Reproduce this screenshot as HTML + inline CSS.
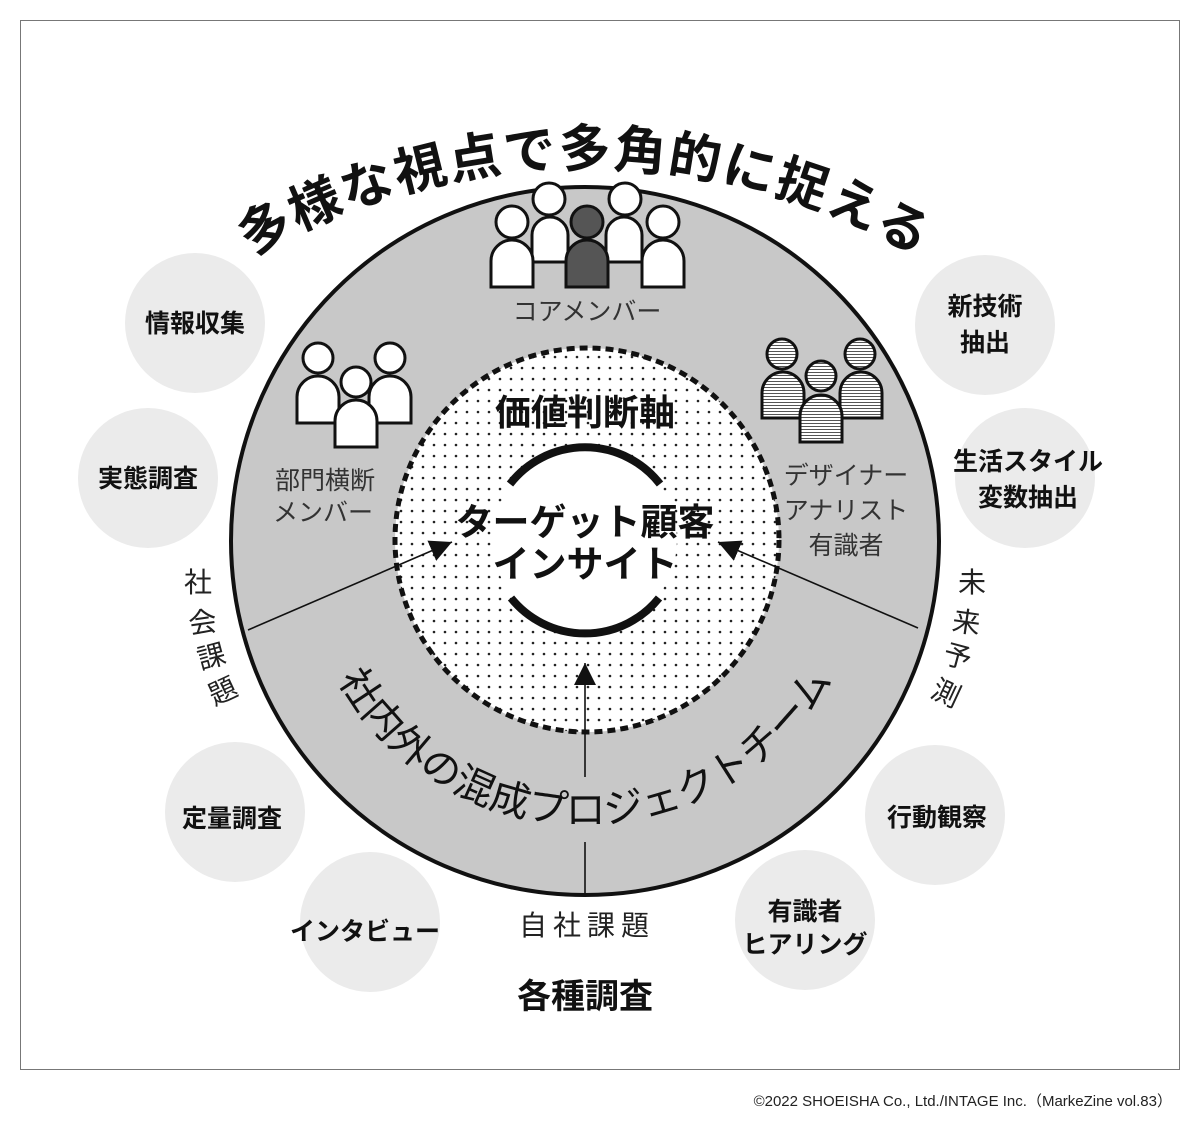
<!DOCTYPE html>
<html><head><meta charset="utf-8"><style>
html,body{margin:0;padding:0;background:#fff;}
svg{display:block;font-family:"Liberation Sans","Noto Sans CJK JP",sans-serif;}
</style></head><body>
<svg width="1200" height="1134" viewBox="0 0 1200 1134" xmlns="http://www.w3.org/2000/svg">
<defs>
<pattern id="dots" width="11" height="11" patternUnits="userSpaceOnUse"><circle cx="5" cy="5" r="1.3" fill="#222"/></pattern>
<pattern id="stripes" width="4" height="3" patternUnits="userSpaceOnUse"><rect width="4" height="3" fill="#fff"/><rect width="4" height="1" fill="#555"/></pattern>
<marker id="ah" viewBox="0 0 10 10" refX="10" refY="5" markerWidth="22" markerHeight="22" markerUnits="userSpaceOnUse" orient="auto"><path d="M0,0 L10,5 L0,10 Z" fill="#111"/></marker>
<path id="titlePath" d="M 585 834 m -667 0 a 667 667 0 0 1 1334 0"/>
<path id="teamPath" d="M 337.5 678 A 283 283 0 0 0 832.5 678"/>
</defs>
<rect x="20.5" y="20.5" width="1159" height="1049" fill="#fff" stroke="#777" stroke-width="1"/>

<g fill="#ebebeb">
<circle cx="195" cy="323" r="70"/>
<circle cx="148" cy="478" r="70"/>
<circle cx="235" cy="812" r="70"/>
<circle cx="370" cy="922" r="70"/>
<circle cx="805" cy="920" r="70"/>
<circle cx="935" cy="815" r="70"/>
<circle cx="1025" cy="478" r="70"/>
<circle cx="985" cy="325" r="70"/>
</g>

<circle cx="585" cy="541" r="354" fill="#c8c8c8" stroke="#111" stroke-width="4"/>

<circle cx="587" cy="540" r="192" fill="#fff"/>
<circle cx="587" cy="540" r="192" fill="url(#dots)"/>
<circle cx="585" cy="540" r="92" fill="#fff"/>
<circle cx="587" cy="540" r="192" fill="none" stroke="#111" stroke-width="5" stroke-dasharray="8 5"/>

<path d="M 510 484 A 95 95 0 0 1 660 484" fill="none" stroke="#111" stroke-width="8"/>
<path d="M 511 598 A 95 95 0 0 0 659 598" fill="none" stroke="#111" stroke-width="8"/>

<line x1="248" y1="630" x2="452" y2="542" stroke="#111" stroke-width="1.6" marker-end="url(#ah)"/>
<line x1="918" y1="628" x2="718" y2="542" stroke="#111" stroke-width="1.6" marker-end="url(#ah)"/>
<line x1="585" y1="777" x2="585" y2="663" stroke="#111" stroke-width="1.6" marker-end="url(#ah)"/>
<line x1="585" y1="842" x2="585" y2="895" stroke="#111" stroke-width="1.6"/>

<g stroke="#111" stroke-width="3">
<path d="M532,262 L532,235 A18,18 0 0 1 568,235 L568,262 Z" fill="#fff"/>
<circle cx="549" cy="199" r="16" fill="#fff"/>
<path d="M606,262 L606,235 A18,18 0 0 1 642,235 L642,262 Z" fill="#fff"/>
<circle cx="625" cy="199" r="16" fill="#fff"/>
<path d="M491,287 L491,261 A21,21 0 0 1 533,261 L533,287 Z" fill="#fff"/>
<circle cx="512" cy="222" r="16" fill="#fff"/>
<path d="M566,287 L566,261 A21,21 0 0 1 608,261 L608,287 Z" fill="#555"/>
<circle cx="587" cy="222" r="16" fill="#555"/>
<path d="M642,287 L642,261 A21,21 0 0 1 684,261 L684,287 Z" fill="#fff"/>
<circle cx="663" cy="222" r="16" fill="#fff"/>
</g>

<g stroke="#111" stroke-width="3" fill="#fff">
<path d="M297,423 L297,397 A21,21 0 0 1 339,397 L339,423 Z"/>
<circle cx="318" cy="358" r="15"/>
<path d="M369,423 L369,397 A21,21 0 0 1 411,397 L411,423 Z"/>
<circle cx="390" cy="358" r="15"/>
<path d="M335,447 L335,421 A21,21 0 0 1 377,421 L377,447 Z"/>
<circle cx="356" cy="382" r="15"/>
</g>

<g stroke="#111" stroke-width="3" fill="url(#stripes)">
<path d="M762,418 L762,393 A21,21 0 0 1 804,393 L804,418 Z"/>
<circle cx="782" cy="354" r="15"/>
<path d="M840,418 L840,393 A21,21 0 0 1 882,393 L882,418 Z"/>
<circle cx="860" cy="354" r="15"/>
<path d="M800,442 L800,416 A21,21 0 0 1 842,416 L842,442 Z"/>
<circle cx="821" cy="376" r="15"/>
</g>

<text font-size="52" font-weight="bold" fill="#111" letter-spacing="2"><textPath href="#titlePath" startOffset="50%" text-anchor="middle">多様な視点で多角的に捉える</textPath></text>

<text font-size="40" fill="#111"><textPath href="#teamPath" startOffset="50%" text-anchor="middle">社内外の混成プロジェクトチーム</textPath></text>

<g fill="#333" font-size="25" text-anchor="middle">
<text x="587" y="320">コアメンバー</text>
<text x="325" y="489">部門横断</text>
<text x="323" y="521">メンバー</text>
<text x="846" y="484">デザイナー</text>
<text x="846" y="519">アナリスト</text>
<text x="846" y="554">有識者</text>
</g>

<g fill="#111" font-weight="bold" text-anchor="middle">
<text x="585" y="425" font-size="36">価値判断軸</text>
<text x="585" y="535" font-size="37">ターゲット顧客</text>
<text x="585" y="577" font-size="37">インサイト</text>
</g>

<g fill="#222" font-size="28" text-anchor="middle">
<text x="198" y="592">社</text>
<text transform="translate(204,632) rotate(-8)">会</text>
<text transform="translate(214,666) rotate(-15)">課</text>
<text transform="translate(227,700) rotate(-25)">題</text>
<text x="972" y="592">未</text>
<text transform="translate(965,632) rotate(8)">来</text>
<text transform="translate(955,666) rotate(15)">予</text>
<text transform="translate(942,702) rotate(25)">測</text>
<text x="587" y="935" letter-spacing="6">自社課題</text>
</g>

<g fill="#111" font-size="25" font-weight="bold" text-anchor="middle">
<text x="195" y="332">情報収集</text>
<text x="148" y="487">実態調査</text>
<text x="232" y="827">定量調査</text>
<text x="365" y="940">インタビュー</text>
<text x="805" y="920">有識者</text>
<text x="805" y="953">ヒアリング</text>
<text x="937" y="826">行動観察</text>
<text x="1028" y="470">生活スタイル</text>
<text x="1028" y="506">変数抽出</text>
<text x="985" y="315">新技術</text>
<text x="985" y="351">抽出</text>
</g>

<text x="585" y="1008" font-size="34" font-weight="bold" fill="#111" text-anchor="middle">各種調査</text>

<text x="1172" y="1106" font-size="15" fill="#222" text-anchor="end">©2022 SHOEISHA Co., Ltd./INTAGE Inc.（MarkeZine vol.83）</text>
</svg>
</body></html>
